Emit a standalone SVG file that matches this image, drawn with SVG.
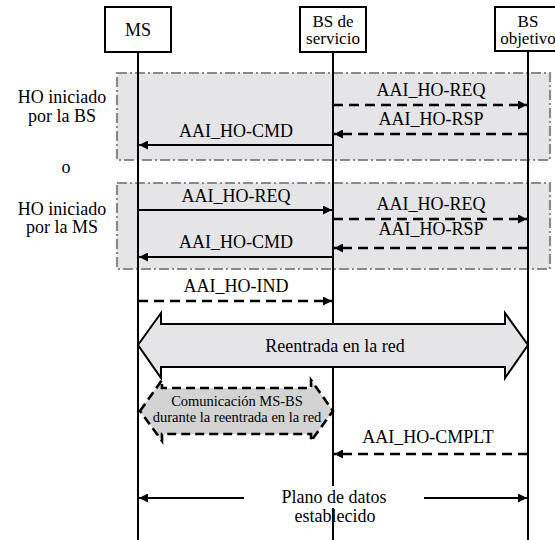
<svg xmlns="http://www.w3.org/2000/svg" width="555" height="540" viewBox="0 0 555 540">
<style>
text{fill:#000;font-family:"Liberation Serif","Times New Roman",serif}
.lbl{font-size:18px;text-anchor:middle}
.two{font-size:17px;text-anchor:middle}
.side{font-size:18px;text-anchor:middle}
.box{fill:#fff;stroke:#000;stroke-width:2}
.life{stroke:#000;stroke-width:2;fill:none}
.grp{fill:#e5e5e7;stroke:#8a8a8a;stroke-width:2.2;stroke-dasharray:10,3,2,3}
.sol{stroke:#000;stroke-width:2;fill:none}
.dsh{stroke:#000;stroke-width:2.6;fill:none;stroke-dasharray:10,6}
</style>
<defs>
<marker id="ah" viewBox="0 0 10 10" refX="10" refY="5" markerWidth="10" markerHeight="9" markerUnits="userSpaceOnUse" orient="auto">
<path d="M0,0 L10,5 L0,10 Z" fill="#000"/>
</marker>
</defs>
<rect width="555" height="540" fill="#fff"/>
<g id="group-bs">
<rect class="grp" x="117" y="73" width="433" height="87"/>
<text class="side" x="62" y="103">HO iniciado</text>
<text class="side" x="62" y="122">por la BS</text>
</g>
<text id="or-label" class="side" x="66" y="173">o</text>
<g id="group-ms">
<rect class="grp" x="117" y="183" width="433" height="86"/>
<text class="side" x="62" y="215">HO iniciado</text>
<text class="side" x="62" y="233">por la MS</text>
</g>
<g id="lifelines">
<line class="life" x1="138" y1="52" x2="138" y2="540"/>
<line class="life" x1="333" y1="52" x2="333" y2="486"/>
<line class="life" x1="333" y1="508" x2="333" y2="540"/>
<line class="life" x1="528" y1="51" x2="528" y2="540"/>
</g>
<g id="node-ms">
<rect class="box" x="105" y="7" width="66" height="45"/>
<text class="lbl" x="138" y="36">MS</text>
</g>
<g id="node-bs-servicio">
<rect class="box" x="300" y="7" width="66" height="45"/>
<text class="two" x="333" y="27">BS de</text>
<text class="two" x="333" y="44">servicio</text>
</g>
<g id="node-bs-objetivo">
<rect class="box" x="495" y="7" width="66" height="44"/>
<text class="two" x="528" y="27">BS</text>
<text class="two" x="528" y="44">objetivo</text>
</g>
<g id="connectors">
<line class="dsh" x1="333" y1="105" x2="527" y2="105" marker-end="url(#ah)"/>
<text class="lbl" x="431" y="96">AAI_HO-REQ</text>
<line class="dsh" x1="528" y1="134" x2="334" y2="134" marker-end="url(#ah)"/>
<text class="lbl" x="431" y="125">AAI_HO-RSP</text>
<line class="sol" x1="333" y1="145" x2="139" y2="145" marker-end="url(#ah)"/>
<text class="lbl" x="236" y="137">AAI_HO-CMD</text>

<line class="sol" x1="138" y1="210" x2="332" y2="210" marker-end="url(#ah)"/>
<text class="lbl" x="236" y="202">AAI_HO-REQ</text>
<line class="dsh" x1="333" y1="219" x2="527" y2="219" marker-end="url(#ah)"/>
<text class="lbl" x="431" y="210">AAI_HO-REQ</text>
<line class="dsh" x1="528" y1="248" x2="334" y2="248" marker-end="url(#ah)"/>
<text class="lbl" x="431" y="235">AAI_HO-RSP</text>
<line class="sol" x1="333" y1="257" x2="139" y2="257" marker-end="url(#ah)"/>
<text class="lbl" x="236" y="248">AAI_HO-CMD</text>

<line class="dsh" x1="138" y1="301" x2="332" y2="301" marker-end="url(#ah)"/>
<text class="lbl" x="236" y="292">AAI_HO-IND</text>

<line class="dsh" x1="528" y1="454" x2="334" y2="454" marker-end="url(#ah)"/>
<text class="lbl" x="428" y="443">AAI_HO-CMPLT</text>

<line class="sol" x1="244" y1="498" x2="139" y2="498" marker-end="url(#ah)"/>
<line class="sol" x1="424" y1="498" x2="527" y2="498" marker-end="url(#ah)"/>
</g>
<g id="reentrada">
<polygon points="138,345 161,313 161,324 505,324 505,313 528,345 505,378 505,367 161,367 161,378" fill="#e5e5e7" stroke="#000" stroke-width="2" stroke-linejoin="miter"/>
<text class="lbl" x="335" y="352">Reentrada en la red</text>
</g>
<g id="comunicacion">
<polygon points="140,411 162,380 162,388 311,388 311,380 333,411 311,441 311,434 162,434 162,441" fill="#d3d3d3" stroke="#000" stroke-width="2.6" stroke-dasharray="9,5"/>
<text x="237" y="406" font-size="14.5" text-anchor="middle">Comunicación MS-BS</text>
<text x="237" y="422" font-size="14.5" text-anchor="middle">durante la reentrada en la red</text>
</g>
<g id="plano-datos">
<text class="lbl" x="334" y="503">Plano de datos</text>
<text class="lbl" x="335" y="522">establecido</text>
</g>
</svg>
